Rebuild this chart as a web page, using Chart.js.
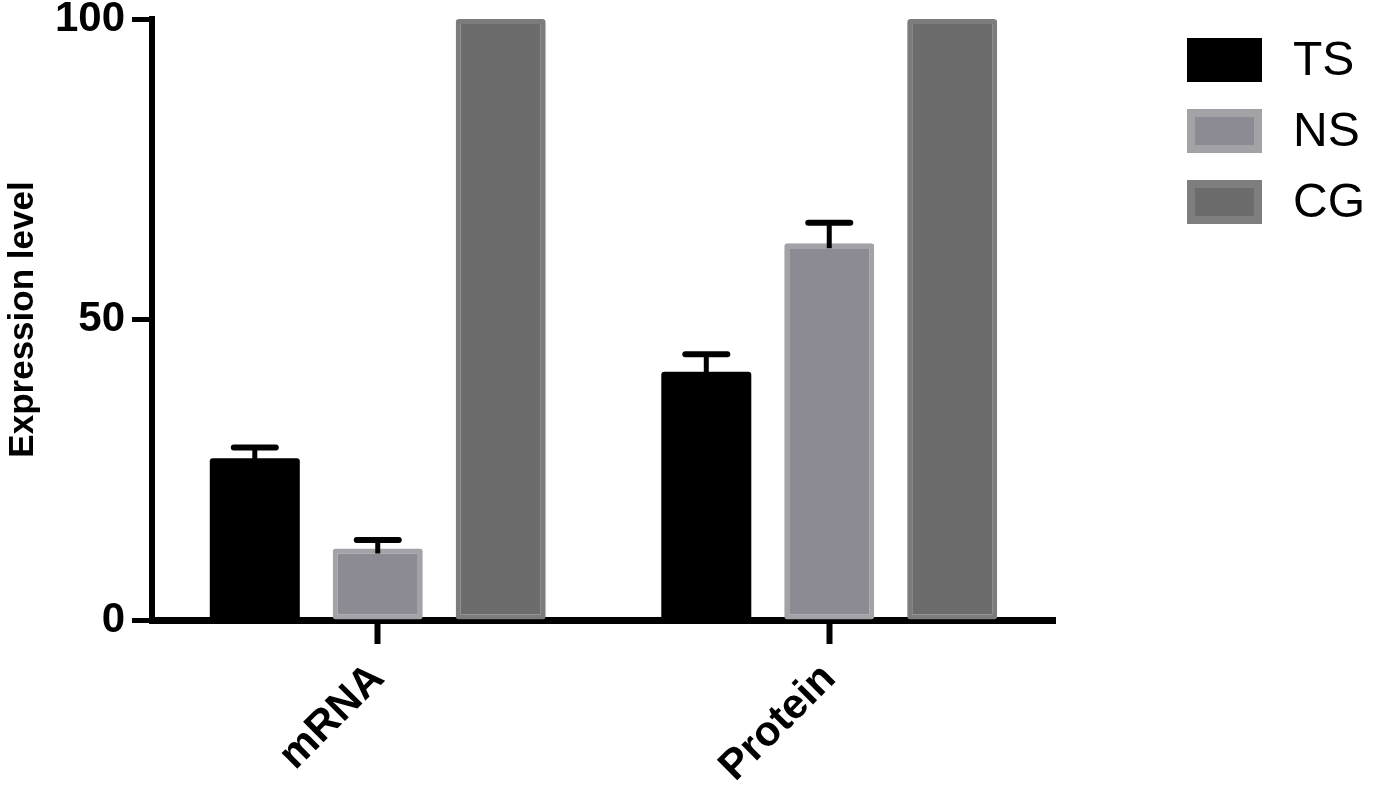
<!DOCTYPE html>
<html>
<head>
<meta charset="utf-8">
<script src="https://cdn.jsdelivr.net/npm/chart.js@4.4.1/dist/chart.umd.min.js"></script>
<style>
  body { margin: 0; background: #fff; }
  canvas { display: block; }
</style>
</head>
<body>
<canvas id="expressionChart" width="1376" height="792"></canvas>
<script>
// values
const categories = ["mRNA", "Protein"];
const groupNames = ["TS", "NS", "CG"];
const tsValues = [26.9, 41.3];
const tsErrors = [1.8, 2.9];
const nsValues = [11.9, 62.7];
const nsErrors = [1.4, 3.4];
const cgValues = [100, 100];
const cgErrors = [0, 0];
const yTicks = [0, 50, 100];

const FONT = "'Liberation Sans', Arial, Helvetica, sans-serif";

// error bars (upper whisker only), drawn from the bar elements
const errorBars = {
    id: "errorBars",
    afterDatasetsDraw(chart) {
        const ctx = chart.ctx;
        const yScale = chart.scales.y;
        ctx.save();
        ctx.strokeStyle = "#000";
        chart.data.datasets.forEach((ds, i) => {
            const meta = chart.getDatasetMeta(i);
            meta.data.forEach((bar, j) => {
                const err = ds.errors[j];
                if (!err) return;
                const top = yScale.getPixelForValue(ds.data[j] + err);
                ctx.lineWidth = 5;
                ctx.beginPath();
                ctx.moveTo(bar.x, bar.y + 5);
                ctx.lineTo(bar.x, top);
                ctx.stroke();
                ctx.lineWidth = 6;
                ctx.lineCap = "round";
                ctx.beginPath();
                ctx.moveTo(bar.x - 21, top);
                ctx.lineTo(bar.x + 21, top);
                ctx.stroke();
                ctx.lineCap = "butt";
            });
        });
        ctx.restore();
    }
};

// legend on the right, like the Prism figure
const sideLegend = {
    id: "sideLegend",
    afterDraw(chart) {
        const ctx = chart.ctx;
        ctx.save();
        chart.data.datasets.forEach((ds, i) => {
            const x = 1187, y = 38 + i * 71, w = 75, h = 44;
            ctx.fillStyle = ds.legendBorder;
            ctx.fillRect(x, y, w, h);
            ctx.fillStyle = ds.backgroundColor;
            ctx.fillRect(x + 8, y + 8, w - 16, h - 16);
            ctx.fillStyle = "#000";
            ctx.font = "48px " + FONT;
            ctx.textBaseline = "middle";
            ctx.textAlign = "left";
            ctx.fillText(ds.label, 1293, y + h / 2 + 2);
        });
        ctx.restore();
    }
};

const ctx = document.getElementById("expressionChart").getContext("2d");

new Chart(ctx, {
    type: "bar",
    data: {
        labels: categories,
        datasets: [
            {
                label: groupNames[0],
                data: tsValues,
                errors: tsErrors,
                backgroundColor: "#000000",
                borderWidth: 0,
                legendBorder: "#000000"
            },
            {
                label: groupNames[1],
                data: nsValues,
                errors: nsErrors,
                backgroundColor: "#8c8b94",
                borderColor: "#a3a3a7",
                borderWidth: 5,
                legendBorder: "#a3a3a7"
            },
            {
                label: groupNames[2],
                data: cgValues,
                errors: cgErrors,
                backgroundColor: "#6c6c6c",
                borderColor: "#7c7c7c",
                borderWidth: 5,
                legendBorder: "#7e7e7e"
            }
        ]
    },
    options: {
        responsive: false,
        animation: false,
        layout: { padding: { top: 19, right: 321, left: 0, bottom: 0 } },
        datasets: {
            bar: {
                categoryPercentage: 0.817,
                barPercentage: 0.732,
                borderRadius: 3,
                borderSkipped: false
            }
        },
        plugins: {
            legend: { display: false },
            tooltip: { enabled: false }
        },
        scales: {
            x: {
                offset: true,
                z: 1,
                border: { color: "#000", width: 7 },
                grid: {
                    offset: false,
                    drawOnChartArea: false,
                    tickLength: 24,
                    tickWidth: 6,
                    tickColor: "#000"
                },
                ticks: {
                    color: "#000",
                    font: { family: FONT, size: 42, weight: "bold" },
                    minRotation: 45,
                    maxRotation: 45,
                    padding: 10
                },
                afterFit(scale) {
                    scale.height = 172;
                    scale.paddingLeft = 0;
                    scale.paddingRight = 0;
                }
            },
            y: {
                min: 0,
                max: 100,
                afterBuildTicks(scale) {
                    scale.ticks = yTicks.map(v => ({ value: v }));
                },
                border: { color: "#000", width: 6 },
                grid: {
                    drawOnChartArea: false,
                    tickLength: 20,
                    tickWidth: 5,
                    tickColor: "#000"
                },
                ticks: {
                    color: "#000",
                    font: { family: FONT, size: 42, weight: "bold" },
                    padding: 7
                },
                title: {
                    display: true,
                    text: "Expression level",
                    color: "#000",
                    font: { family: FONT, size: 35, weight: "bold" },
                    padding: { top: 2, bottom: 0 }
                },
                afterFit(scale) {
                    scale.width = 152;
                    scale.paddingTop = 0;
                    scale.paddingBottom = 0;
                }
            }
        }
    },
    plugins: [errorBars, sideLegend]
});
</script>
</body>
</html>
